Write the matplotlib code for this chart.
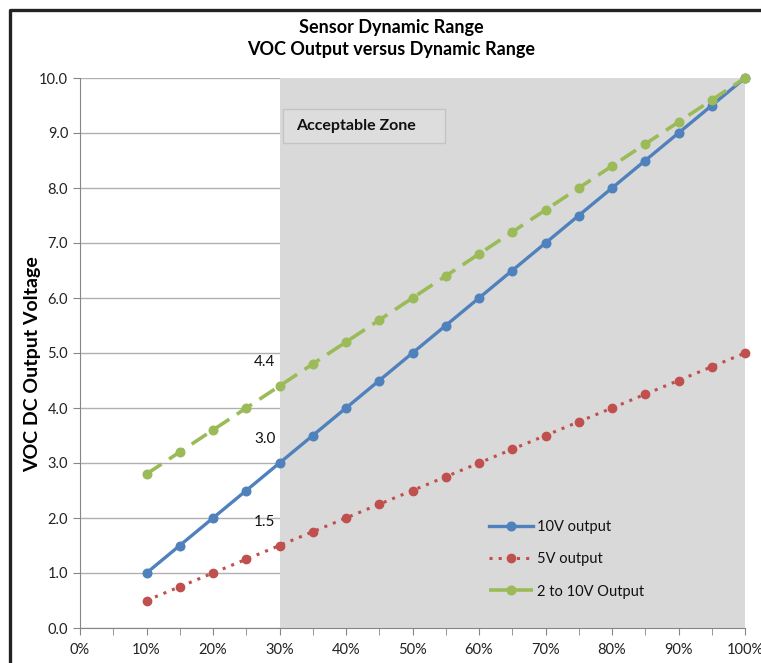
import matplotlib.pyplot as plt
from matplotlib.lines import Line2D
from matplotlib.patches import Rectangle
from matplotlib.ticker import MultipleLocator, FuncFormatter

plt.rcParams['font.family'] = ['Lato', 'DejaVu Sans']

# dane
pct = [0.10, 0.15, 0.20, 0.25, 0.30, 0.35, 0.40, 0.45, 0.50, 0.55,
       0.60, 0.65, 0.70, 0.75, 0.80, 0.85, 0.90, 0.95, 1.00]
v10 = [1.0, 1.5, 2.0, 2.5, 3.0, 3.5, 4.0, 4.5, 5.0, 5.5,
       6.0, 6.5, 7.0, 7.5, 8.0, 8.5, 9.0, 9.5, 10.0]
v5 = [0.5, 0.75, 1.0, 1.25, 1.5, 1.75, 2.0, 2.25, 2.5, 2.75,
      3.0, 3.25, 3.5, 3.75, 4.0, 4.25, 4.5, 4.75, 5.0]
v2_10 = [2.8, 3.2, 3.6, 4.0, 4.4, 4.8, 5.2, 5.6, 6.0, 6.4,
         6.8, 7.2, 7.6, 8.0, 8.4, 8.8, 9.2, 9.6, 10.0]
labels = ['10V output', '5V output', '2 to 10V Output']
zone_start = 0.30

fig = plt.figure(figsize=(7.61, 6.63), dpi=100)
ax = fig.add_axes([80/761, 1-628/663, 665/761, 550/663])

ax.set_xlim(0, 1)
ax.set_ylim(0, 10)
ax.xaxis.set_major_locator(MultipleLocator(0.1))
ax.xaxis.set_minor_locator(MultipleLocator(0.05))
ax.xaxis.set_major_formatter(FuncFormatter(lambda v, p: '%d%%' % round(v*100)))
ax.yaxis.set_major_locator(MultipleLocator(1))
ax.yaxis.set_major_formatter(FuncFormatter(lambda v, p: '%.1f' % v))

for s in ['top', 'right']:
    ax.spines[s].set_visible(False)
for s in ['left', 'bottom']:
    ax.spines[s].set_color('#868686')
    ax.spines[s].set_zorder(2)
ax.tick_params(axis='both', which='both', colors='#868686', labelcolor='#222222',
               labelsize=10.5, length=5)
ax.tick_params(axis='x', pad=6)
ax.grid(axis='y', color='#b0b0b0', lw=1, zorder=0)
ax.set_axisbelow(True)

# strefa akceptowalna
ax.axvspan(zone_start, 1.0, color='#d9d9d9', zorder=1, lw=0)
ax.add_patch(Rectangle((0.305, 0.8818), 0.2436, 0.0618, transform=ax.transAxes,
                       facecolor='#dddddd', edgecolor='#c4c4c4', lw=1, zorder=2))
ax.text(0.325, 0.9127, 'Acceptable Zone', transform=ax.transAxes, fontsize=11.5,
        fontweight='bold', va='center', ha='left', color='#111111', zorder=3)

ax.plot(pct, v10, color='#4f81bd', lw=2.4, marker='o', ms=6.2,
        label=labels[0], zorder=4, clip_on=False)
ax.plot(pct, v5, color='#c0504d', lw=2.2, ls=(0, (1, 2)), marker='o', ms=6,
        label=labels[1], zorder=4, clip_on=False)
ax.plot(pct, v2_10, color='#9bbb59', lw=2.6, ls=(0, (5, 2.5)), marker='o', ms=6.2,
        label=labels[2], zorder=5, clip_on=False)

# etykiety przy 30%
i30 = pct.index(zone_start)
for series in (v2_10, v10, v5):
    ax.annotate('%.1f' % series[i30], (pct[i30], series[i30]), xytext=(-3, 12),
                textcoords='offset points', ha='right', va='bottom',
                fontsize=11, color='#111111', zorder=6)

leg = ax.legend(loc='upper left', bbox_to_anchor=(0.595, 0.22), frameon=False,
                fontsize=10.5, handlelength=3.0, labelspacing=1.25, handletextpad=0.3)
for t in leg.get_texts():
    t.set_color('#111111')

fig.text(391/761, 1-27/663, 'Sensor Dynamic Range', ha='center', va='center',
         fontsize=13, fontweight='bold')
fig.text(391/761, 1-50/663, 'VOC Output versus Dynamic Range', ha='center',
         va='center', fontsize=13, fontweight='bold')
fig.text(33/761, 1-364/663, 'VOC DC Output Voltage', ha='center', va='center',
         rotation=90, fontsize=14, fontweight='bold')

# ramka
fig.add_artist(Line2D([10/761, 10/761, 1.0], [0.0, 1-10/663, 1-10/663],
                      transform=fig.transFigure, color='#222222', lw=2.4))

plt.savefig('out.png', dpi=100)
